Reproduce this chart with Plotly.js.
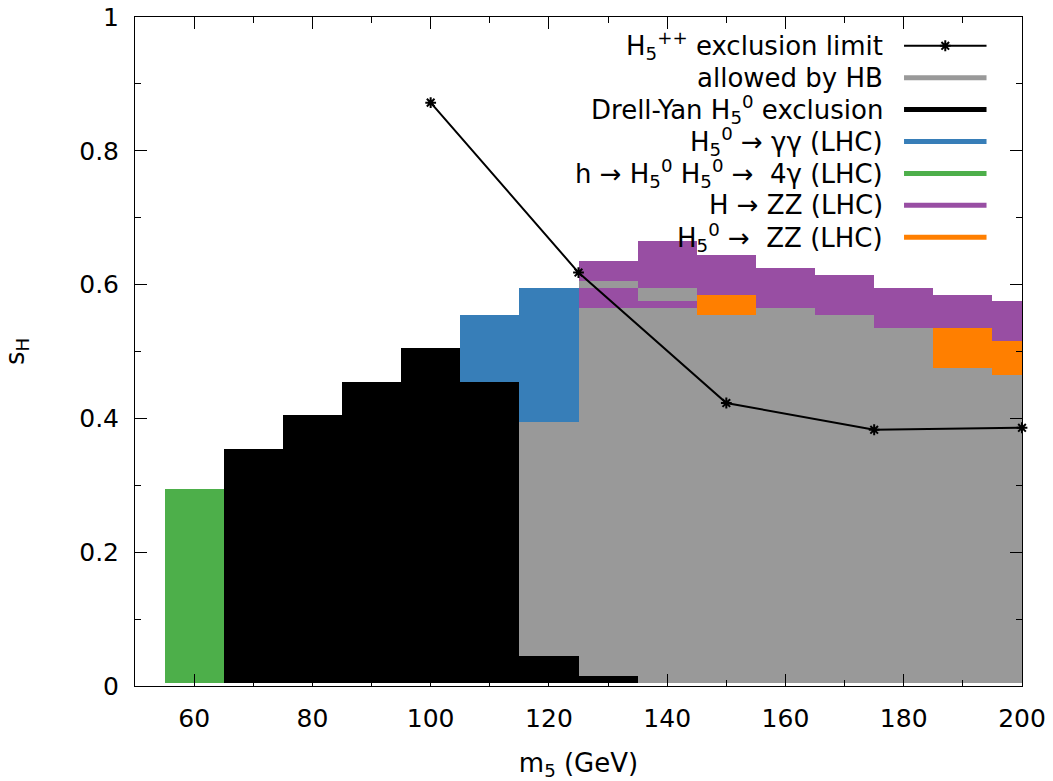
<!DOCTYPE html>
<html>
<head>
<meta charset="utf-8">
<script src="https://cdn.plot.ly/plotly-3.0.1.min.js"></script>
<style>html,body{margin:0;padding:0;background:#fff;}#chart{width:1053px;height:781px;}</style>
</head>
<body>
<div id="chart"></div>
<script>
// ---- data (m5 bin centres in GeV, s_H lower/upper edges) ----
const grayX  = [120, 130, 130, 140, 140, 150, 160, 170, 180, 190, 200];
const grayLo = [0.045, 0.015, 0.595, 0.005, 0.575, 0.005, 0.005, 0.005, 0.005, 0.005, 0.005];
const grayHi = [0.395, 0.565, 0.605, 0.565, 0.595, 0.555, 0.565, 0.555, 0.535, 0.475, 0.465];

const blackX  = [70, 80, 90, 100, 110, 120, 130];
const blackLo = [0.005, 0.005, 0.005, 0.005, 0.005, 0.005, 0.005];
const blackHi = [0.355, 0.405, 0.455, 0.505, 0.455, 0.045, 0.015];

const greenX  = [60];
const greenLo = [0.005];
const greenHi = [0.295];

const blueX  = [110, 120];
const blueLo = [0.455, 0.395];
const blueHi = [0.555, 0.595];

const purpleX  = [130, 130, 140, 140, 150, 160, 170, 180, 190, 200];
const purpleLo = [0.565, 0.605, 0.565, 0.595, 0.585, 0.565, 0.555, 0.535, 0.535, 0.515];
const purpleHi = [0.595, 0.635, 0.575, 0.665, 0.645, 0.625, 0.615, 0.595, 0.585, 0.575];

const orangeX  = [150, 190, 200];
const orangeLo = [0.555, 0.475, 0.465];
const orangeHi = [0.585, 0.535, 0.515];

const limitX = [100, 125, 150, 175, 200];
const limitY = [0.872, 0.618, 0.423, 0.383, 0.386];

const legendLabels = [
  "H<sub>5</sub><sup>++</sup> exclusion limit",
  "allowed by HB",
  "Drell-Yan H<sub>5</sub><sup>0</sup> exclusion",
  "H<sub>5</sub><sup>0</sup> → γγ (LHC)",
  "h → H<sub>5</sub><sup>0</sup> H<sub>5</sub><sup>0</sup> →  4γ (LHC)",
  "H → ZZ (LHC)",
  "H<sub>5</sub><sup>0</sup> →  ZZ (LHC)"
];
const legendColors = ["#000000", "#999999", "#000000", "#377eb8", "#4daf4a", "#984ea3", "#ff7f00"];

// ---- traces ----
function cells(x, lo, hi, color) {
  return {
    type: 'bar', x: x, base: lo, y: hi.map((h, i) => h - lo[i]),
    width: 10, marker: {color: color, line: {width: 0}},
    showlegend: false, hoverinfo: 'skip'
  };
}
const traces = [
  cells(grayX, grayLo, grayHi, "#999999"),
  cells(blackX, blackLo, blackHi, "#000000"),
  cells(greenX, greenLo, greenHi, "#4daf4a"),
  cells(blueX, blueLo, blueHi, "#377eb8"),
  cells(purpleX, purpleLo, purpleHi, "#984ea3"),
  cells(orangeX, orangeLo, orangeHi, "#ff7f00"),
  {
    type: 'scatter', mode: 'lines+markers', x: limitX, y: limitY,
    line: {color: '#000', width: 2},
    marker: {symbol: 'asterisk-open', size: 9, color: '#000', line: {color: '#000', width: 2}},
    showlegend: false, cliponaxis: false
  }
];

// ---- legend drawn gnuplot style (text right, sample line) ----
const annotations = [];
const shapes = [];
const rowY0 = 0.957, rowStep = 0.0477;
legendLabels.forEach((t, i) => {
  const y = rowY0 - i * rowStep;
  annotations.push({
    xref: 'paper', yref: 'paper', x: 0.8456, y: y, xanchor: 'right', yanchor: 'middle',
    text: t, showarrow: false, font: {family: 'DejaVu Sans', size: 26, color: '#000'}
  });
  shapes.push({
    type: 'line', xref: 'paper', yref: 'paper', x0: 0.867, x1: 0.960, y0: y, y1: y,
    line: {color: legendColors[i], width: i === 0 ? 2 : 5}
  });
});
// marker sample of first legend row
traces.push({
  type: 'scatter', mode: 'markers', xaxis: 'x2', yaxis: 'y2',
  x: [0.9135], y: [rowY0], marker: {symbol: 'asterisk-open', size: 9, color: '#000', line: {color: '#000', width: 2}},
  showlegend: false, hoverinfo: 'skip', cliponaxis: false
});

const axisCommon = {
  showline: true, linecolor: '#000', linewidth: 1, mirror: 'ticks',
  ticks: 'inside', ticklen: 12, tickwidth: 1, tickcolor: '#000',
  showgrid: false, zeroline: false,
  tickfont: {family: 'DejaVu Sans', size: 25, color: '#000'}
};

const layout = {
  width: 1053, height: 781,
  margin: {l: 135, r: 31, t: 17, b: 95},
  paper_bgcolor: '#fff', plot_bgcolor: '#fff',
  barmode: 'overlay', bargap: 0,
  font: {family: 'DejaVu Sans', size: 25, color: '#000'},
  xaxis: Object.assign({}, axisCommon, {
    range: [50, 200], tick0: 0, dtick: 20, ticklabelstandoff: 10,
    minor: {dtick: 10, ticklen: 6, ticks: 'inside', tickcolor: '#000', tickwidth: 1, showgrid: false},
    title: {text: 'm<sub>5</sub> (GeV)', font: {family: 'DejaVu Sans', size: 26, color: '#000'}, standoff: 30}
  }),
  yaxis: Object.assign({}, axisCommon, {
    range: [0, 1], tick0: 0, dtick: 0.2, ticklabelstandoff: 10,
    minor: {dtick: 0.1, ticklen: 6, ticks: 'inside', tickcolor: '#000', tickwidth: 1, showgrid: false},
    title: {text: 's<sub>H</sub>', font: {family: 'DejaVu Sans', size: 26, color: '#000'}, standoff: 52}
  }),
  xaxis2: {domain: [0, 1], range: [0, 1], overlaying: 'x', visible: false, fixedrange: true},
  yaxis2: {domain: [0, 1], range: [0, 1], overlaying: 'y', visible: false, fixedrange: true},
  annotations: annotations,
  shapes: shapes
};

Plotly.newPlot('chart', traces, layout, {displayModeBar: false, staticPlot: true});
</script>
</body>
</html>
